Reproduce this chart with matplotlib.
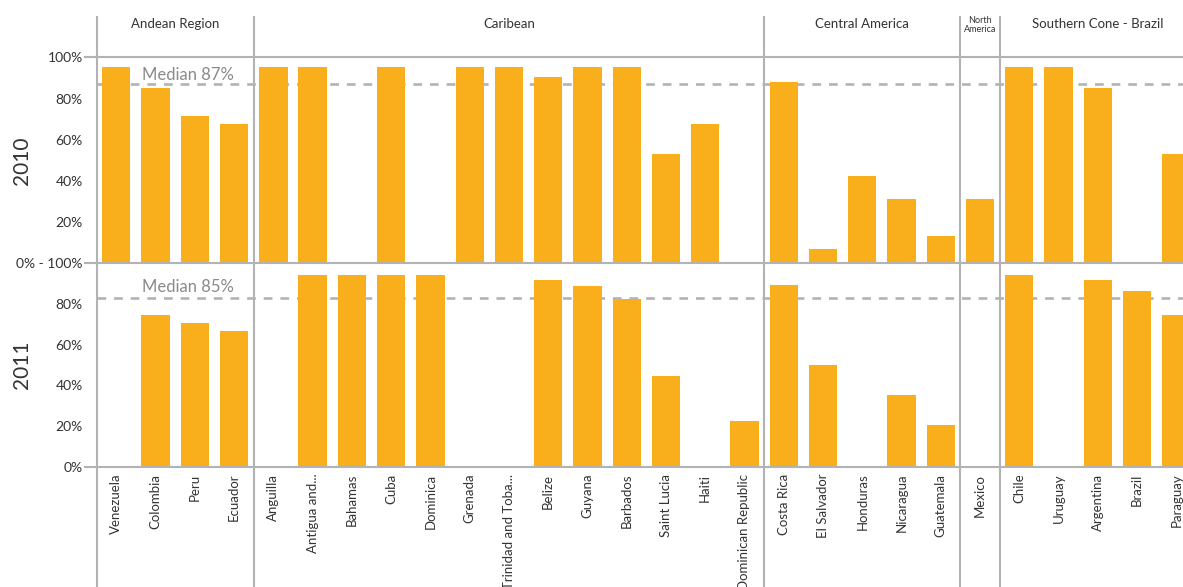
import numpy as np
import matplotlib.pyplot as plt
from matplotlib.lines import Line2D

plt.rcParams['font.family'] = ['Lato', 'DejaVu Sans']

regions = ['Andean Region', 'Caribean', 'Central America', 'North\nAmerica', 'Southern Cone - Brazil']
region_counts = [4, 13, 5, 1, 5]
countries = ['Venezuela', 'Colombia', 'Peru', 'Ecuador',
             'Anguilla', 'Antigua and...', 'Bahamas', 'Cuba', 'Dominica', 'Grenada',
             'Trinidad and Toba...', 'Belize', 'Guyana', 'Barbados', 'Saint Lucia', 'Haiti',
             'Dominican Republic',
             'Costa Rica', 'El Salvador', 'Honduras', 'Nicaragua', 'Guatemala',
             'Mexico',
             'Chile', 'Uruguay', 'Argentina', 'Brazil', 'Paraguay']
nan = np.nan
values_2010 = [95.3, 85.1, 71.5, 67.6,
               95.3, 95.3, nan, 95.3, nan, 95.3, 95.3, 90.4, 95.3, 95.3, 53.0, 67.6, nan,
               88.0, 6.9, 42.4, 31.2, 13.3,
               31.2,
               95.3, 95.3, 85.1, nan, 53.0]
values_2011 = [nan, 74.6, 70.6, 66.7,
               nan, 94.1, 94.1, 94.1, 94.1, nan, nan, 91.7, 88.8, 82.4, 44.6, nan, 22.5,
               89.2, 50.0, nan, 35.3, 20.6,
               nan,
               94.1, nan, 91.7, 86.3, 74.6]
years = ['2010', '2011']
median_values = [87.0, 82.8]
median_labels = ['Median 87%', 'Median 85%']

BAR = '#f9ae1b'
GRID = '#b3b3b6'
TEXT = '#333333'

W, H = 1183, 587
left = 96.7
slot = 39.26
rows = [(57.3, 263.3), (263.3, 466.7)]
n = len(countries)
x = np.arange(n)

fig = plt.figure(figsize=(W / 100, H / 100), dpi=100)

for r, (vals, (top, bot)) in enumerate(zip([values_2010, values_2011], rows)):
    ax = fig.add_axes([left / W, 1 - bot / H, n * slot / W, (bot - top) / H])
    v = np.array(vals)
    m = ~np.isnan(v)
    ax.bar(x[m], v[m], width=0.72, color=BAR, zorder=2)
    ax.axhline(median_values[r], color=GRID, lw=1.9, ls=(0, (3.3, 3.0)), zorder=1)
    ax.annotate(median_labels[r], xy=(0.65, median_values[r]),
                xytext=(0, 3 if r == 0 else 4.8), textcoords='offset points',
                color='#8a8a8a', fontsize=12, ha='left', va='baseline')
    ax.set_xlim(-0.5, n - 0.5)
    ax.set_ylim(0, 100)
    for s in ax.spines.values():
        s.set_visible(False)
    if r == 0:
        ax.set_yticks([0, 20, 40, 60, 80, 100])
        ax.set_yticklabels(['0% - 100%', '20%', '40%', '60%', '80%', '100%'])
        ax.set_xticks([])
    else:
        ax.set_yticks([0, 20, 40, 60, 80])
        ax.set_yticklabels(['0%', '20%', '40%', '60%', '80%'])
        ax.set_xticks(x)
        ax.set_xticklabels(countries, rotation=90, fontsize=9.5, color=TEXT)
    ax.tick_params(axis='y', length=0, pad=10, labelsize=10, labelcolor=TEXT)
    ax.tick_params(axis='x', length=0, pad=5)
    fig.text(22 / W, 1 - (top + bot) / 2 / H, years[r], rotation=90, fontsize=15,
             color=TEXT, ha='center', va='center')

# grid lines between panels
for yy in [57.3, 263.3, 466.7]:
    fig.add_artist(Line2D([85 / W, 1], [1 - yy / H] * 2, color=GRID, lw=1.5,
                          transform=fig.transFigure))
bounds = left + slot * np.concatenate([[0], np.cumsum(region_counts)])
for bx in bounds[:-1]:
    fig.add_artist(Line2D([bx / W] * 2, [1 - 17 / H, 0], color=GRID, lw=1.5,
                          transform=fig.transFigure))

# region headers
for i, name in enumerate(regions):
    cx = (bounds[i] + bounds[i + 1]) / 2
    small = '\n' in name
    fig.text(cx / W, 1 - (25 if small else 24) / H, name, ha='center', va='center',
             fontsize=6.5 if small else 9.5, color=TEXT, linespacing=1.0)

fig.savefig('out.png', dpi=100)
